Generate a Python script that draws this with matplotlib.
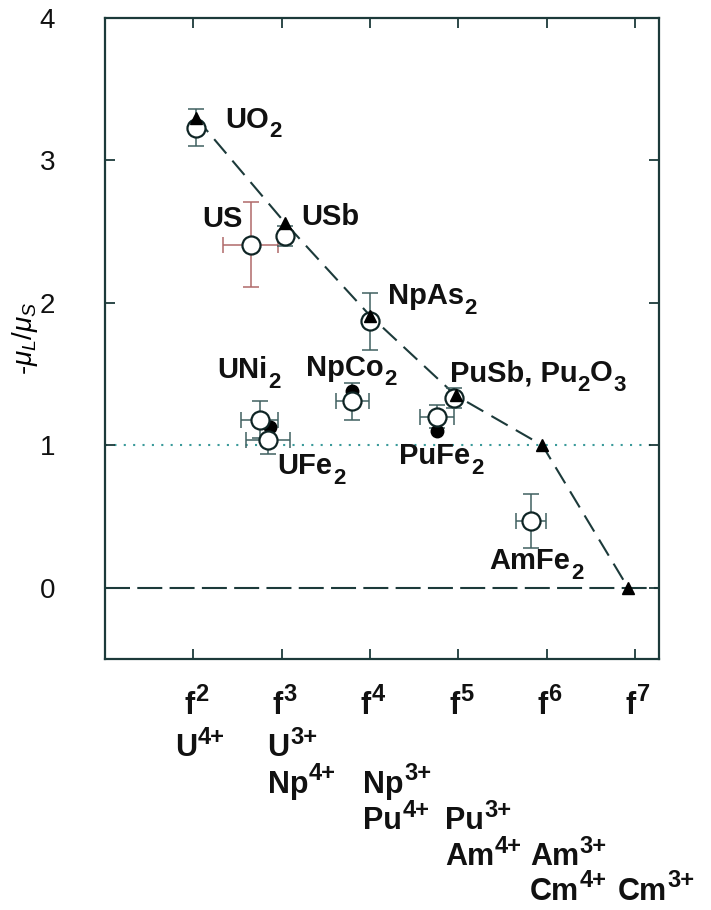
import re
import numpy as np
import matplotlib.pyplot as plt
from matplotlib.transforms import IdentityTransform, blended_transform_factory

plt.rcParams['font.family'] = ['Liberation Sans', 'DejaVu Sans']
plt.rcParams['mathtext.fontset'] = 'custom'
plt.rcParams['mathtext.rm'] = 'Liberation Sans'
plt.rcParams['mathtext.it'] = 'Liberation Sans:italic'
plt.rcParams['mathtext.bf'] = 'Liberation Sans:bold'

# measured ratios (open circles) with error bars
names = ['UO_{2}', 'US', 'USb', 'NpAs_{2}', 'NpCo_{2}', 'PuSb, Pu_{2}O_{3}', 'PuFe_{2}',
         'UNi_{2}', 'UFe_{2}', 'AmFe_{2}']
meas_x = [2.03, 2.65, 3.04, 4.00, 3.80, 4.95, 4.76, 2.75, 2.84, 5.82]
meas_y = [3.23, 2.41, 2.47, 1.87, 1.31, 1.33, 1.20, 1.18, 1.04, 0.47]
meas_xerr = [0.0, 0.31, 0.0, 0.0, 0.19, 0.06, 0.19, 0.21, 0.25, 0.17]
meas_yerr = [0.13, 0.30, 0.07, 0.20, 0.13, 0.07, 0.08, 0.13, 0.10, 0.19]

# second set of values (filled circles)
alt_x = [3.80, 4.76, 2.87]
alt_y = [1.38, 1.10, 1.13]

# calculated free-ion values (triangles)
calc_x = [2.03, 3.04, 4.00, 4.97, 5.95, 6.92]
calc_y = [3.30, 2.56, 1.91, 1.35, 1.00, 0.00]

label_x = [2.36, 2.10, 3.22, 4.20, 3.28, 4.90, 4.33, 2.27, 2.95, 5.35]
label_y = [3.23, 2.53, 2.55, 1.99, 1.49, 1.45, 0.87, 1.47, 0.80, 0.13]

f_ticks = [2, 3, 4, 5, 6, 7]

# ion configurations under each f^n column: (column, row, text)
ions = [(2, 0, 'U^{4+}'), (3, 0, 'U^{3+}'), (3, 1, 'Np^{4+}'),
        (4, 1, 'Np^{3+}'), (4, 2, 'Pu^{4+}'), (5, 2, 'Pu^{3+}'), (5, 3, 'Am^{4+}'),
        (6, 3, 'Am^{3+}'), (6, 4, 'Cm^{4+}'), (7, 4, 'Cm^{3+}')]
ion_shift = {2: -0.21, 3: -0.16, 4: -0.08, 5: -0.15, 6: -0.19, 7: -0.20}
row_y = [0.169, 0.129, 0.089, 0.049, 0.011]

ink = '#1c3a3a'
fig = plt.figure(figsize=(7.11, 9.10), dpi=100)
ax = fig.add_axes([0.1477, 0.2758, 0.7792, 0.7044])
ax.set_xlim(1.0, 7.27)
ax.set_ylim(-0.5, 4)
renderer = fig.canvas.get_renderer()


def chem_text(x, y, s, trans, size, small, ha='left', sub_dy=6.0, sup_dy=8.0):
    """Write bold text with _{..} / ^{..} parts as separate, larger-than-mathtext pieces."""
    px, py = trans.transform((x, y))
    pts = fig.dpi / 72.0
    pieces = re.split(r'([_^]\{[^}]*\})', s)
    arts = []
    start = px
    for p in pieces:
        if not p:
            continue
        if p[0] in '_^':
            fs, dy, p = small, (-sub_dy if p[0] == '_' else sup_dy), p[2:-1]
            px += 0.5
        else:
            fs, dy = size, 0.0
        t = fig.text(px, py + dy * pts, p, transform=IdentityTransform(), fontsize=fs,
                     fontweight='bold', ha='left', va='baseline', color='#111111', zorder=7)
        px = t.get_window_extent(renderer).x1
        arts.append(t)
    if ha == 'center':
        shift = (px - start) / 2.0
        for t in arts:
            tx, ty = t.get_position()
            t.set_position((tx - shift, ty))
    return arts


ax.axhline(0, color=ink, lw=1.5, dashes=(12, 3.5), zorder=1)
ax.axhline(1, color='#3a9a9a', lw=1.5, dashes=(1, 3.5), zorder=1)
ax.plot(calc_x, calc_y, color=ink, lw=1.5, dashes=(9, 4.5), zorder=2)

ecols = ['#406060'] * len(names)
ecols[1] = '#b06a6a'
for x, y, xe, ye, c in zip(meas_x, meas_y, meas_xerr, meas_yerr, ecols):
    ax.errorbar(x, y, xerr=xe if xe else None, yerr=ye, fmt='none', ecolor=c,
                elinewidth=1.1, capsize=6, capthick=1.1, zorder=3)

ax.plot(alt_x, alt_y, 'o', color='black', ms=9, zorder=4, ls='none')
ax.plot(meas_x, meas_y, 'o', mfc='white', mec='#0f2525', mew=1.6, ms=13, zorder=5, ls='none')
ax.plot(calc_x, calc_y, '^', color='black', ms=9, zorder=6, ls='none')

ax.set_yticks([0, 1, 2, 3, 4])
ax.set_xticks(f_ticks)
ax.set_xticklabels([])
ax.tick_params(direction='in', length=7, width=1.3, top=True, right=True,
               labelsize=20, colors=ink, labelcolor='#111111')
ax.tick_params(axis='y', pad=36)
for s in ax.spines.values():
    s.set_color(ink)
    s.set_linewidth(1.6)

ax.set_ylabel(r'-$\mu_L/\mu_S$', fontsize=20)
ax.yaxis.set_label_coords(-0.118, 0.5)

for t, x, y in zip(names, label_x, label_y):
    chem_text(x, y, t, ax.transData, 21, 16, sub_dy=7)

col_trans = blended_transform_factory(ax.transData, fig.transFigure)
for n in f_ticks:
    chem_text(n + 0.03, 0.2154, 'f^{%d}' % n, col_trans, 22, 17, ha='center', sup_dy=9.5)
for col, row, t in ions:
    chem_text(col + ion_shift[col], row_y[row], t, col_trans, 22, 17, sup_dy=9)

fig.savefig('out.png', dpi=100)
